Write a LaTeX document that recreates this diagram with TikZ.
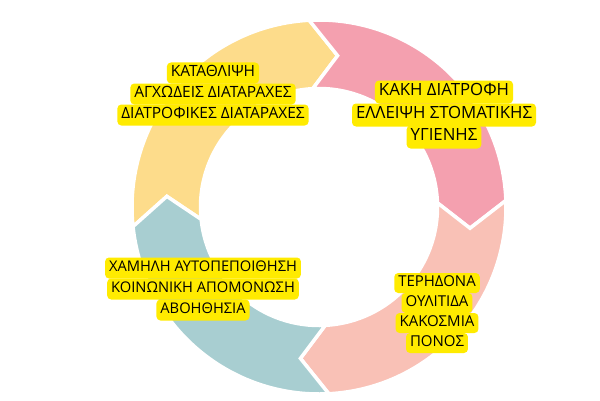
\documentclass[tikz,border=0pt]{standalone}
\usepackage{fontspec}
\setmainfont{Open Sans}
\definecolor{segyellow}{HTML}{FDDC8B}
\definecolor{segpink}{HTML}{F4A0AF}
\definecolor{segpeach}{HTML}{F9C1B6}
\definecolor{segblue}{HTML}{A8CED1}
\definecolor{tagyellow}{HTML}{FFEB00}
\tikzset{
	seg/.style={draw=white, line width=3.5pt, line join=miter},
	tag/.style={fill=tagyellow, rounded corners=4pt, inner xsep=4pt, inner ysep=0pt, minimum height=21pt, text height=0.72em, text depth=0.05em},
}
\begin{document}
\begin{tikzpicture}[x=1pt,y=1pt]
	\useasboundingbox (0,0) rectangle (600,400);
	\begin{scope}[shift={(319,193)}]
	\filldraw [seg, fill=segyellow] (186:187pt) arc [start angle=186, end angle=93, radius=187pt] -- (83:152.5pt) -- (93:118.5pt) arc [start angle=93, end angle=186, radius=118.5pt] -- (176:152.5pt) -- cycle;
	\filldraw [seg, fill=segpink] (93:187pt) arc [start angle=93, end angle=2, radius=187pt] -- (-8:152.5pt) -- (2:118.5pt) arc [start angle=2, end angle=93, radius=118.5pt] -- (83:152.5pt) -- cycle;
	\filldraw [seg, fill=segpeach] (2:187pt) arc [start angle=2, end angle=-87, radius=187pt] -- (-97:152.5pt) -- (-87:118.5pt) arc [start angle=-87, end angle=2, radius=118.5pt] -- (-8:152.5pt) -- cycle;
	\filldraw [seg, fill=segblue] (-87:187pt) arc [start angle=-87, end angle=-174, radius=187pt] -- (-184:152.5pt) -- (-174:118.5pt) arc [start angle=-174, end angle=-87, radius=118.5pt] -- (-97:152.5pt) -- cycle;
	\end{scope}
	\begin{scope}[every node/.style={tag, font=\fontsize{15.5}{15.5}\selectfont}]
	\node (tl1) at (213,327) {ΚΑΤΑΘΛΙΨΗ};
	\node (tl2) at (213,306) {ΑΓΧΩΔΕΙΣ ΔΙΑΤΑΡΑΧΕΣ};
	\node (tl3) at (213,285) {ΔΙΑΤΡΟΦΙΚΕΣ ΔΙΑΤΑΡΑΧΕΣ};
	\end{scope}
	\begin{scope}[every node/.style={tag, minimum height=23pt, font=\fontsize{16.8}{16.8}\selectfont}]
	\node (tr1) at (444,308) {ΚΑΚΗ ΔΙΑΤΡΟΦΗ};
	\node (tr2) at (444,285) {ΕΛΛΕΙΨΗ ΣΤΟΜΑΤΙΚΗΣ};
	\node (tr3) at (444,263) {ΥΓΙΕΝΗΣ};
	\end{scope}
	\begin{scope}[every node/.style={tag, minimum height=20pt, font=\fontsize{15}{15}\selectfont}]
	\node (br1) at (437,117) {ΤΕΡΗΔΟΝΑ};
	\node (br2) at (437,97) {ΟΥΛΙΤΙΔΑ};
	\node (br3) at (437,77) {ΚΑΚΟΣΜΙΑ};
	\node (br4) at (437,57) {ΠΟΝΟΣ};
	\end{scope}
	\begin{scope}[every node/.style={tag, font=\fontsize{14.7}{14.7}\selectfont}]
	\node (bl1) at (203,132) {ΧΑΜΗΛΗ ΑΥΤΟΠΕΠΟΙΘΗΣΗ};
	\node (bl2) at (203,111) {ΚΟΙΝΩΝΙΚΗ ΑΠΟΜΟΝΩΣΗ};
	\node (bl3) at (203,90) {ΑΒΟΗΘΗΣΙΑ};
	\end{scope}
\end{tikzpicture}
\end{document}
